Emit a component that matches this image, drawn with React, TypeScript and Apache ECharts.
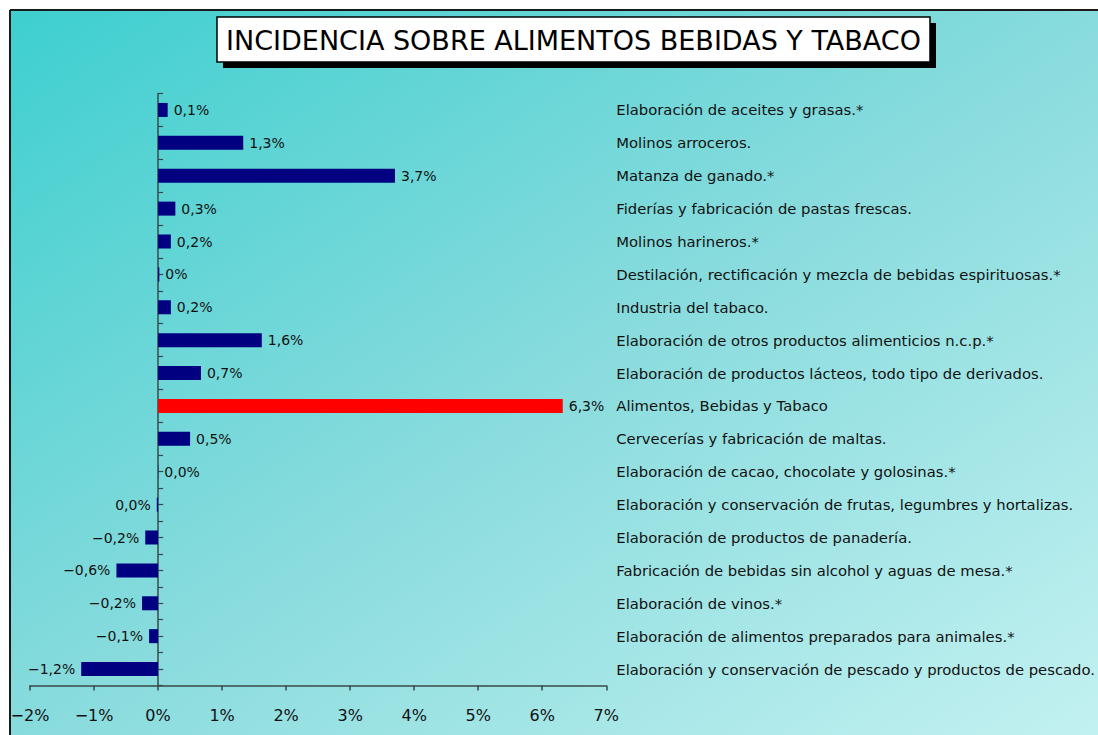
import React, { useEffect, useRef } from "react";
import * as echarts from "echarts";

const categories = [
  "Elaboración de aceites y grasas.*",
  "Molinos arroceros.",
  "Matanza de ganado.*",
  "Fiderías y fabricación de pastas frescas.",
  "Molinos harineros.*",
  "Destilación, rectificación y mezcla de bebidas espirituosas.*",
  "Industria del tabaco.",
  "Elaboración de otros productos alimenticios n.c.p.*",
  "Elaboración de productos lácteos, todo tipo de derivados.",
  "Alimentos, Bebidas y Tabaco",
  "Cervecerías y fabricación de maltas.",
  "Elaboración de cacao, chocolate y golosinas.*",
  "Elaboración y conservación de frutas, legumbres y hortalizas.",
  "Elaboración de productos de panadería.",
  "Fabricación de bebidas sin alcohol y aguas de mesa.*",
  "Elaboración de vinos.*",
  "Elaboración de alimentos preparados para animales.*",
  "Elaboración y conservación de pescado y productos de pescado.",
];

const values = [
  0.15, 1.33, 3.7, 0.27, 0.2, 0.02, 0.2, 1.62, 0.67, 6.32, 0.5, 0.004, -0.02,
  -0.2, -0.65, -0.25, -0.14, -1.2,
];

const valueLabels = [
  "0,1%", "1,3%", "3,7%", "0,3%", "0,2%", "0%", "0,2%", "1,6%", "0,7%",
  "6,3%", "0,5%", "0,0%", "0,0%", "−0,2%", "−0,6%", "−0,2%", "−0,1%", "−1,2%",
];

const highlightCategory = "Alimentos, Bebidas y Tabaco";
const title = "INCIDENCIA SOBRE ALIMENTOS BEBIDAS Y TABACO";
const xMin = -2;
const xMax = 7;

const FONT = "DejaVu Sans";

export default function App() {
  const ref = useRef<HTMLDivElement>(null);

  useEffect(() => {
    if (!ref.current) return;
    const chart = echarts.init(ref.current, null, { renderer: "svg" });
    const W = 1098;
    const H = 735;
    const gridLeft = 30;
    const gridRight = 607;
    const gridTop = 93.5;
    const gridBottom = 685.5;
    const zeroX = gridLeft + ((0 - xMin) / (xMax - xMin)) * (gridRight - gridLeft);

    chart.setOption({
      animation: false,
      textStyle: { fontFamily: FONT },
      graphic: [
        {
          type: "rect",
          z: -10,
          silent: true,
          shape: { x: 10, y: 10, width: W - 10, height: H - 10 },
          style: {
            fill: new echarts.graphic.LinearGradient(0, 0, 1, 1, [
              { offset: 0, color: "#3ECFCF" },
              { offset: 0.5, color: "#88DBDD" },
              { offset: 1, color: "#C3F1F1" },
            ]),
          },
        },
        {
          type: "line",
          z: -5,
          silent: true,
          shape: { x1: 10, y1: 10, x2: W, y2: 10 },
          style: { stroke: "#1a1a1a", lineWidth: 2 },
        },
        {
          type: "line",
          z: -5,
          silent: true,
          shape: { x1: 10, y1: 10, x2: 10, y2: H },
          style: { stroke: "#1a1a1a", lineWidth: 2 },
        },
        {
          type: "rect",
          silent: true,
          shape: { x: 223, y: 23, width: 713, height: 45 },
          style: { fill: "#000" },
        },
        {
          type: "rect",
          silent: true,
          shape: { x: 217, y: 17, width: 713, height: 45 },
          style: { fill: "#fff", stroke: "#000", lineWidth: 1.5 },
        },
        {
          type: "text",
          silent: true,
          x: 573.5,
          y: 40,
          style: {
            text: title,
            fontFamily: FONT,
            fontSize: 27,
            fill: "#000",
            align: "center",
            verticalAlign: "middle",
          },
        },
      ],
      grid: {
        left: gridLeft,
        right: W - gridRight,
        top: gridTop,
        bottom: H - gridBottom,
        containLabel: false,
      },
      xAxis: {
        type: "value",
        min: xMin,
        max: xMax,
        interval: 1,
        splitLine: { show: false },
        axisLine: { show: true, lineStyle: { color: "#3a4a4a", width: 1.5 } },
        axisTick: { show: true, length: 5, lineStyle: { color: "#3a4a4a", width: 1.5 } },
        axisLabel: {
          color: "#111",
          fontSize: 16,
          fontFamily: FONT,
          margin: 22,
          formatter: (v: number) => (v < 0 ? "−" + Math.abs(v) : String(v)) + "%",
        },
      },
      yAxis: [
        {
          type: "category",
          data: categories,
          inverse: true,
          axisLine: { show: true, onZero: true, lineStyle: { color: "#3a4a4a", width: 1.5 } },
          axisTick: { show: true, inside: true, length: 5, lineStyle: { color: "#3a4a4a", width: 1.2 } },
          axisLabel: { show: false },
          splitLine: { show: false },
        },
        {
          type: "category",
          data: categories,
          inverse: true,
          position: "right",
          axisLine: { show: false, onZero: false },
          axisTick: { show: false },
          axisLabel: {
            show: true,
            align: "left",
            margin: 10,
            color: "#111",
            fontSize: 14.8,
            fontFamily: FONT,
          },
        },
        {
          type: "category",
          data: categories,
          inverse: true,
          position: "left",
          offset: -(zeroX - gridLeft),
          axisLine: { show: false, onZero: false },
          axisTick: {
            show: true,
            inside: true,
            alignWithLabel: true,
            length: 5,
            lineStyle: { color: "#3a4a4a", width: 1.2 },
          },
          axisLabel: { show: false },
        },
      ],
      series: [
        {
          type: "bar",
          yAxisIndex: 0,
          barWidth: 14,
          data: values.map((v, i) => ({
            value: v,
            itemStyle: {
              color: categories[i] === highlightCategory ? "#FF0000" : "#000080",
            },
            label: {
              show: true,
              position: v < 0 ? "left" : "right",
              distance: 6,
              formatter: valueLabels[i],
              color: "#111",
              fontSize: 14,
              fontFamily: FONT,
            },
          })),
        },
      ],
    });
    return () => chart.dispose();
  }, []);

  return (
    <div
      style={{ position: "fixed", left: 0, top: 0, width: 1098, height: 735, background: "#fff" }}
    >
      <div ref={ref} style={{ width: 1098, height: 735 }} />
    </div>
  );
}
